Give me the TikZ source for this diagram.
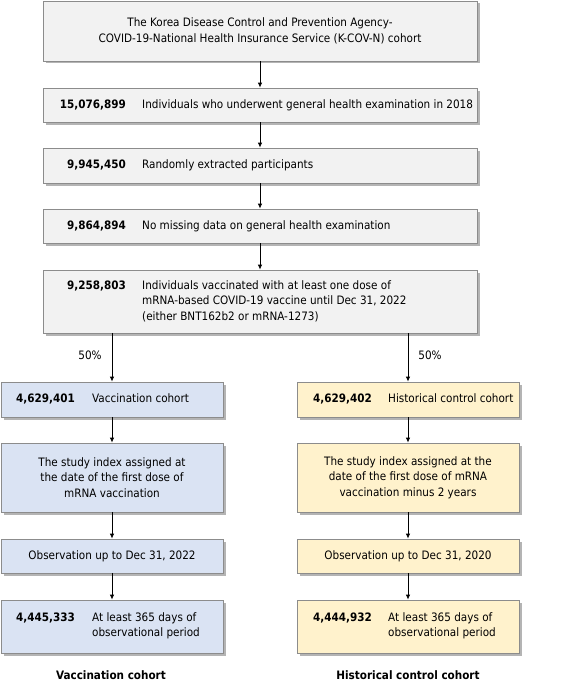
\documentclass[tikz,border=0pt]{standalone}
\usepackage{fontspec}
\setmainfont{DejaVu Sans Condensed}
\usetikzlibrary{shadows,arrows.meta}
\definecolor{graybox}{HTML}{F2F2F2}
\definecolor{bluebox}{HTML}{DAE3F3}
\definecolor{yellowbox}{HTML}{FFF2CC}
\definecolor{bordergray}{HTML}{8C8C8C}
\definecolor{shadowgray}{HTML}{B4B4B4}
\tikzset{
  box/.style={draw=bordergray, line width=0.8pt, rectangle, inner sep=0pt,
    general shadow={shadow xshift=2.5pt, shadow yshift=-2.5pt, fill=shadowgray}},
  gbox/.style={box, fill=graybox},
  bbox/.style={box, fill=bluebox},
  ybox/.style={box, fill=yellowbox},
  txt/.style={inner sep=0pt, font=\fontsize{11.6}{15.3}\selectfont},
  num/.style={txt, font=\fontsize{11.6}{15.3}\selectfont\bfseries},
  arr/.style={-{Latex[length=5pt,width=4.5pt]}, line width=0.8pt},
}
\begin{document}
\begin{tikzpicture}[x=1pt,y=-1pt]
\useasboundingbox (0,0) rectangle (566,685);
% boxes
\node[gbox, minimum width=434, minimum height=60] (b1) at (260,31) {};
\node[gbox, minimum width=434, minimum height=34] (b2) at (260,105) {};
\node[gbox, minimum width=434, minimum height=35] (b3) at (260,165.5) {};
\node[gbox, minimum width=434, minimum height=34] (b4) at (260,226) {};
\node[gbox, minimum width=434, minimum height=63] (b5) at (260,301.5) {};
\node[bbox, minimum width=222, minimum height=35] (l1) at (112,399.5) {};
\node[bbox, minimum width=222, minimum height=69] (l2) at (112,477.5) {};
\node[bbox, minimum width=222, minimum height=34] (l3) at (112,556) {};
\node[bbox, minimum width=222, minimum height=53] (l4) at (112,626.5) {};
\node[ybox, minimum width=222, minimum height=35] (r1) at (408,399.5) {};
\node[ybox, minimum width=222, minimum height=69] (r2) at (408,477.5) {};
\node[ybox, minimum width=222, minimum height=34] (r3) at (408,556) {};
\node[ybox, minimum width=222, minimum height=53] (r4) at (408,626.5) {};
% texts
\node[txt, align=center] (t1) at (b1.center) {The Korea Disease Control and Prevention Agency-\\COVID-19-National Health Insurance Service (K-COV-N) cohort};
\node[num, anchor=north east] (n2) at (126,97.5) {\strut 15,076,899};
\node[txt, anchor=north west] (t2) at (142,97.5) {\strut Individuals who underwent general health examination in 2018};
\node[num, anchor=north east] (n3) at (126,157.5) {\strut 9,945,450};
\node[txt, anchor=north west] (t3) at (142,157.5) {\strut Randomly extracted participants};
\node[num, anchor=north east] (n4) at (126,218.5) {\strut 9,864,894};
\node[txt, anchor=north west] (t4) at (142,218.5) {\strut No missing data on general health examination};
\node[num, anchor=north east] (n5) at (126,278.5) {\strut 9,258,803};
\node[txt, anchor=north west, align=left] (t5) at (142,278.5) {\strut Individuals vaccinated with at least one dose of\\mRNA-based COVID-19 vaccine until Dec 31, 2022\\(either BNT162b2 or mRNA-1273)};
\node[num, anchor=north west] (nl1) at (16,391.5) {\strut 4,629,401};
\node[txt, anchor=north west] (tl1) at (92,391.5) {\strut Vaccination cohort};
\node[num, anchor=north west] (nr1) at (313,391.5) {\strut 4,629,402};
\node[txt, anchor=north west] (tr1) at (388,391.5) {\strut Historical control cohort};
\node[txt, align=center] (tl2) at (l2.center) {The study index assigned at\\the date of the first dose of\\mRNA vaccination};
\node[txt, align=center] (tr2) at (r2.center) {The study index assigned at the\\date of the first dose of mRNA\\vaccination minus 2 years};
\node[txt] (tl3) at (l3.center) {Observation up to Dec 31, 2022};
\node[txt] (tr3) at (r3.center) {Observation up to Dec 31, 2020};
\node[num, anchor=north west] (nl4) at (16,610.5) {\strut 4,445,333};
\node[txt, anchor=north west, align=left] (tl4) at (92,610.5) {\strut At least 365 days of\\observational period};
\node[num, anchor=north west] (nr4) at (313,610.5) {\strut 4,444,932};
\node[txt, anchor=north west, align=left] (tr4) at (388,610.5) {\strut At least 365 days of\\observational period};
\node[num] (lab1) at (111,675) {Vaccination cohort};
\node[num] (lab2) at (408,675) {Historical control cohort};
% arrows
\draw[arr] (b1) -- (b2);
\draw[arr] (b2) -- (b3);
\draw[arr] (b3) -- (b4);
\draw[arr] (b4) -- (b5);
\draw[arr] (b5.south -| l1.north) -- node[txt, pos=0.45, left=10pt] (p1) {50\%} (l1.north);
\draw[arr] (b5.south -| r1.north) -- node[txt, pos=0.45, right=10pt] (p2) {50\%} (r1.north);
\draw[arr] (l1) -- (l2);
\draw[arr] (l2) -- (l3);
\draw[arr] (l3) -- (l4);
\draw[arr] (r1) -- (r2);
\draw[arr] (r2) -- (r3);
\draw[arr] (r3) -- (r4);
\end{tikzpicture}
\end{document}
